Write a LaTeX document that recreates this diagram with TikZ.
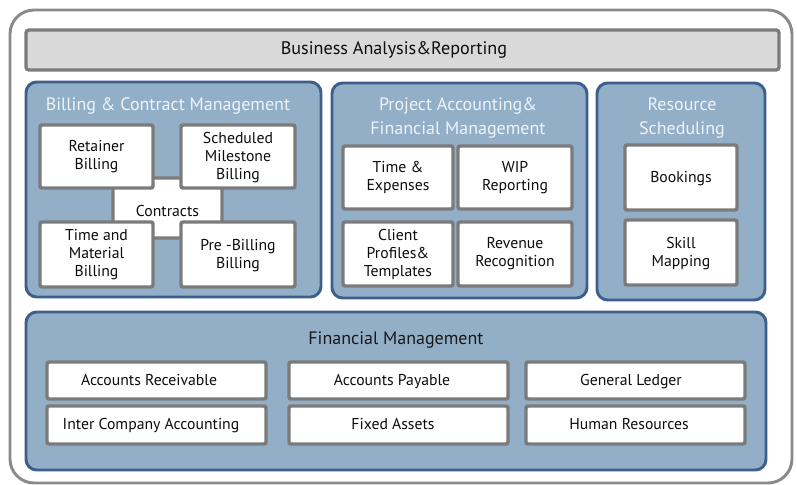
\documentclass[tikz,border=0pt]{standalone}
\usepackage{fontspec}
\setmainfont{PT Sans}

\definecolor{panelblue}{HTML}{93AFC8}
\definecolor{paneledge}{HTML}{3D5F8C}
\definecolor{boxedge}{HTML}{7B7B7B}
\definecolor{bargray}{HTML}{D9D9D9}
\definecolor{outergray}{HTML}{8A8A8A}
\definecolor{titlewhite}{HTML}{EEF3F8}

\tikzset{
  panel/.style={fill=panelblue, draw=paneledge, line width=2.2pt, rounded corners=8pt},
  module/.style={fill=white, draw=boxedge, line width=2.6pt, rounded corners=1.5pt},
  lbl/.style={align=center, font=\fontsize{11.8}{13.5}\selectfont, text=black!95},
  rowlbl/.style={lbl, text height=1.6ex, text depth=0.4ex},
  head/.style={align=center, font=\fontsize{13.5}{17.5}\selectfont, text=titlewhite},
}

\begin{document}
\begin{tikzpicture}[x=0.75pt,y=-0.75pt]
\useasboundingbox (0,0) rectangle (797,485);
\filldraw[fill=white, draw=outergray, line width=2.2pt, rounded corners=18pt] (10,10) rectangle (792,483);

% reporting bar
\filldraw[fill=bargray, draw=boxedge, line width=2.4pt, rounded corners=2pt] (26,30) rectangle (779,70);
\node[lbl, font=\fontsize{13.6}{15}\selectfont] (bar) at (394,50) {Business Analysis\&Reporting};

% billing
\filldraw[panel] (26,82) rectangle (321,297);
\node[head] (billing) at (168,106) {Billing \& Contract Management};
\filldraw[module] (113,178) rectangle (222,238);
\filldraw[module] (40,125) rectangle (153,188);
\filldraw[module] (181,125) rectangle (295,188);
\filldraw[module] (40,222) rectangle (153,287);
\filldraw[module] (181,222) rectangle (295,287);
\node[lbl] (contracts) at (167.5,211) {Contracts};
\node[lbl] (retainer) at (96.5,156.5) {Retainer\\Billing};
\node[lbl] (milestone) at (238,158) {Scheduled\\Milestone\\Billing};
\node[lbl] (material) at (96.5,254.5) {Time and\\Material\\Billing};
\node[lbl] (prebill) at (238,256) {Pre -Billing\\Billing};

% project accounting
\filldraw[panel] (332,83) rectangle (587,298);
\node[head] (project) at (458,118) {Project Accounting\&\\Financial Management};
\filldraw[module] (343,146) rectangle (453,209);
\filldraw[module] (458,146) rectangle (572,209);
\filldraw[module] (343,222) rectangle (453,286);
\filldraw[module] (458,222) rectangle (572,286);
\node[lbl] (expenses) at (398,177.5) {Time \&\\Expenses};
\node[lbl] (wip) at (515,177.5) {WIP\\Reporting};
\node[lbl] (profiles) at (398,254) {Client\\Profiles\&\\Templates};
\node[lbl] (revenue) at (515,254) {Revenue\\Recognition};

% resources
\filldraw[panel] (597,83) rectangle (765,300);
\node[head] (resource) at (682,118) {Resource\\Scheduling};
\filldraw[module] (625,145) rectangle (737,210);
\filldraw[module] (625,220) rectangle (737,285);
\node[lbl] (bookings) at (681,178.5) {Bookings};
\node[lbl] (skill) at (681,253.5) {Skill\\Mapping};

% financial management
\filldraw[panel] (26,312) rectangle (766,470);
\node[head, text=black!90] (finance) at (396,340) {Financial Management};
\filldraw[module] (47,362) rectangle (266,399);
\filldraw[module] (289,362) rectangle (508,399);
\filldraw[module] (526,362) rectangle (745,399);
\filldraw[module] (47,406) rectangle (266,444);
\filldraw[module] (289,406) rectangle (508,444);
\filldraw[module] (526,406) rectangle (745,444);
\node[rowlbl] (receivable) at (149,381) {Accounts Receivable};
\node[rowlbl] (payable) at (392,381) {Accounts Payable};
\node[rowlbl] (ledger) at (631,381) {General Ledger};
\node[rowlbl] (intercompany) at (151,425.5) {Inter Company Accounting};
\node[rowlbl] (assets) at (393,425.5) {Fixed Assets};
\node[rowlbl] (hr) at (629,425.5) {Human Resources};
\end{tikzpicture}
\end{document}
